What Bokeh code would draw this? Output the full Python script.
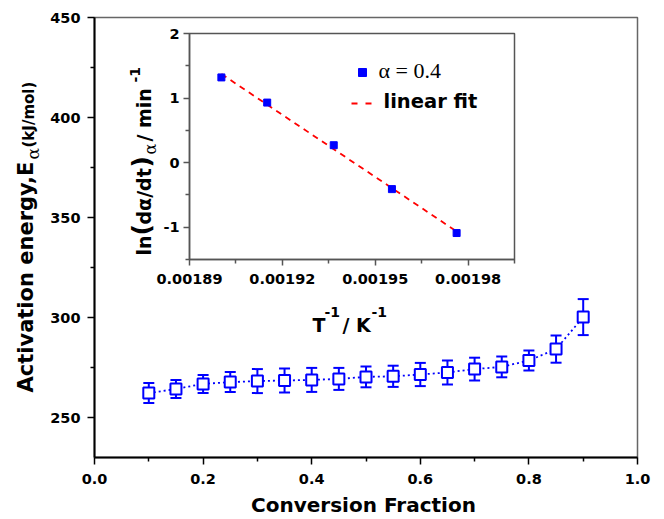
import numpy as np
from bokeh.plotting import figure
from bokeh.models import (Range1d, FixedTicker, Whisker, TeeHead, ColumnDataSource,
                          Label, NumeralTickFormatter, LinearAxis)
from bokeh.embed import file_html
from bokeh.resources import INLINE

# ---------------- data ----------------
conversion = [0.10, 0.15, 0.20, 0.25, 0.30, 0.35, 0.40, 0.45, 0.50,
              0.55, 0.60, 0.65, 0.70, 0.75, 0.80, 0.85, 0.90]
activation_energy = [262.2, 264.3, 266.8, 267.7, 268.2, 268.5, 268.8, 269.3, 270.3,
                     270.6, 271.5, 272.5, 274.2, 275.3, 278.5, 284.2, 300.2]
energy_error = [5.0, 4.5, 4.5, 5.0, 6.0, 6.0, 6.0, 5.5, 5.2,
                5.3, 5.8, 6.0, 5.7, 5.2, 5.0, 6.8, 9.0]

inv_temperature = [0.0019003, 0.0019151, 0.0019366, 0.0019554, 0.0019763]
ln_rate = [1.32, 0.93, 0.27, -0.41, -1.09]

main_x_ticks = [0.0, 0.2, 0.4, 0.6, 0.8, 1.0]
main_x_minor = [0.1, 0.3, 0.5, 0.7, 0.9]
main_y_ticks = [250, 300, 350, 400, 450]
main_y_minor = [275, 325, 375, 425]
inset_x_ticks = [0.00189, 0.00192, 0.00195, 0.00198]
inset_x_minor = [0.001905, 0.001935, 0.001965, 0.001995]
inset_y_ticks = [-1, 0, 1, 2]
inset_y_minor = [-1.5, -0.5, 0.5, 1.5]

# ---------------- layout ----------------
W, H = 664, 519
FL, FR, FT, FB = 94, 637, 17, 457          # main plot box (px)
XR = (0.0, 1.0)
YR = (230.0, 450.0)
IL, IR, IT, IB = 189, 514, 33, 259         # inset box (px)
IXR = (0.00189, 0.001995)
IYR = (-1.5, 2.0)

msx = (FR - FL) / (XR[1] - XR[0])
msy = (FB - FT) / (YR[1] - YR[0])
sx = (IR - IL) / (IXR[1] - IXR[0])
sy = (IB - IT) / (IYR[1] - IYR[0])


def mx(px):
    return XR[0] + (px - FL) / msx


def my(py):
    return YR[1] - (py - FT) / msy


def ix(px):
    return IXR[0] + (px - IL) / sx


def iy(py):
    return IYR[1] - (py - IT) / sy


FONT = "DejaVu Sans"
BLUE = "#0000ff"

p = figure(width=W, height=H,
           x_range=Range1d(mx(0), mx(W)), y_range=Range1d(my(H), my(0)),
           output_backend="svg", toolbar_location=None,
           x_axis_location=None, y_axis_location=None,
           min_border_left=0, min_border_right=0, min_border_top=0, min_border_bottom=0)
p.extra_x_ranges = {"ix": Range1d(ix(0), ix(W))}
p.extra_y_ranges = {"iy": Range1d(iy(H), iy(0))}
p.grid.visible = False
p.outline_line_color = None
p.background_fill_color = "white"
p.border_fill_color = "white"


def style_axis(ax, tick_out=7, minor_out=4, color="black", width=2, standoff=8):
    ax.axis_line_width = width
    ax.axis_line_color = color
    ax.major_tick_line_width = 1.5
    ax.minor_tick_line_width = 1.5
    ax.major_tick_line_color = color
    ax.minor_tick_line_color = color
    ax.major_tick_out = tick_out
    ax.major_tick_in = 0
    ax.minor_tick_out = minor_out
    ax.minor_tick_in = 0
    ax.major_label_text_font = FONT
    ax.major_label_text_font_style = "bold"
    ax.major_label_text_font_size = "14.5px"
    ax.major_label_text_color = "black"
    ax.major_label_standoff = standoff


# main plot box (top/right sides visible in grey)
p.quad(left=[XR[0]], right=[XR[1]], bottom=[YR[0]], top=[YR[1]],
       fill_color=None, line_color="#666666", line_width=1.5)

xa = LinearAxis(fixed_location=YR[0], bounds=XR,
                ticker=FixedTicker(ticks=main_x_ticks, minor_ticks=main_x_minor),
                formatter=NumeralTickFormatter(format="0.0"))
style_axis(xa, standoff=9)
p.add_layout(xa, "below")
ya = LinearAxis(fixed_location=XR[0], bounds=YR,
                ticker=FixedTicker(ticks=main_y_ticks, minor_ticks=main_y_minor),
                formatter=NumeralTickFormatter(format="0"))
style_axis(ya, standoff=7)
p.add_layout(ya, "left")

# ---------------- main series ----------------
ea = np.array(activation_energy)
err = np.array(energy_error)
src = ColumnDataSource(dict(x=conversion, y=activation_energy,
                            upper=list(ea + err), lower=list(ea - err)))
wh = Whisker(source=src, base="x", upper="upper", lower="lower",
             line_color=BLUE, line_width=2,
             upper_head=TeeHead(size=11, line_color=BLUE, line_width=2),
             lower_head=TeeHead(size=11, line_color=BLUE, line_width=2))
p.add_layout(wh)
p.line("x", "y", source=src, line_color=BLUE, line_width=1.8, line_dash="2 3")
p.scatter("x", "y", source=src, marker="square", size=11, fill_color="white",
          line_color=BLUE, line_width=2)

# ---------------- inset ----------------
RN = dict(x_range_name="ix", y_range_name="iy")
p.quad(left=[IXR[0]], right=[IXR[1]], bottom=[IYR[0]], top=[IYR[1]],
       fill_color="white", line_color="#555555", line_width=1.5, **RN)

ixa = LinearAxis(fixed_location=IYR[0], bounds=IXR, **RN,
                 ticker=FixedTicker(ticks=inset_x_ticks, minor_ticks=inset_x_minor),
                 formatter=NumeralTickFormatter(format="0.00000"))
style_axis(ixa, tick_out=6, minor_out=4, color="#555555", width=1.5, standoff=8)
p.add_layout(ixa, "below")
iya = LinearAxis(fixed_location=IXR[0], bounds=IYR, **RN,
                 ticker=FixedTicker(ticks=inset_y_ticks, minor_ticks=inset_y_minor),
                 formatter=NumeralTickFormatter(format="0"))
style_axis(iya, tick_out=6, minor_out=4, color="#555555", width=1.5, standoff=4)
p.add_layout(iya, "left")

coef = np.polyfit(inv_temperature, ln_rate, 1)
fit_x = [min(inv_temperature), max(inv_temperature)]
fit_y = list(np.polyval(coef, fit_x))
p.line(fit_x, fit_y, line_color="red", line_width=1.8, line_dash="6 5", **RN)
p.scatter(inv_temperature, ln_rate, marker="square", size=7, color=BLUE, **RN)

# legend
p.scatter([ix(362)], [iy(72)], marker="square", size=8, color=BLUE, **RN)
p.segment(x0=[ix(351)], y0=[iy(103)], x1=[ix(373)], y1=[iy(103)],
          line_color="red", line_width=1.8, line_dash="6 8", **RN)

R = np.pi / 2
SHIFT = 0.36  # baseline compensation (fraction of font size)


def lab(text, px, py, size, font=FONT, style="bold", angle=0.0, align="left"):
    if angle:
        px = px - SHIFT * size
    else:
        py = py - SHIFT * size
    p.add_layout(Label(x=mx(px), y=my(py), text=text, text_font=font,
                       text_font_style=style, text_font_size=f"{size}px",
                       text_color="black", angle=angle,
                       text_align=align, text_baseline="alphabetic"))


lab("\u03b1 = 0.4", 378, 78, 22, font="Liberation Serif", style="normal")
lab("linear fit", 383, 108, 19.5)

# inset x label
lab("T", 312, 331, 19)
lab("-1", 324, 317, 14)
lab("/ K", 342, 331, 19)
lab("-1", 371, 317, 14)

# inset y label (rotated)
lab("ln", 150, 255, 19, angle=R)
lab("(", 150, 235, 25, angle=R)
lab("d\u03b1/dt", 150, 224, 19, angle=R)
lab(")", 150, 167, 25, angle=R)
lab("\u03b1", 156, 154, 16, font="DejaVu Serif", style="normal", angle=R)
lab(" / min", 150, 141, 19, angle=R)
lab("-1", 140, 82, 14, angle=R)

# main y label (rotated)
lab("Activation energy,E", 33, 392, 21, angle=R)
lab("\u03b1", 39, 159, 17, font="DejaVu Serif", style="normal", angle=R)
lab(" (kJ/mol)", 34, 147, 15, angle=R)

# main x label
lab("Conversion Fraction", 363, 512, 20, align="center")

open("out.html", "w").write(file_html(p, INLINE))
